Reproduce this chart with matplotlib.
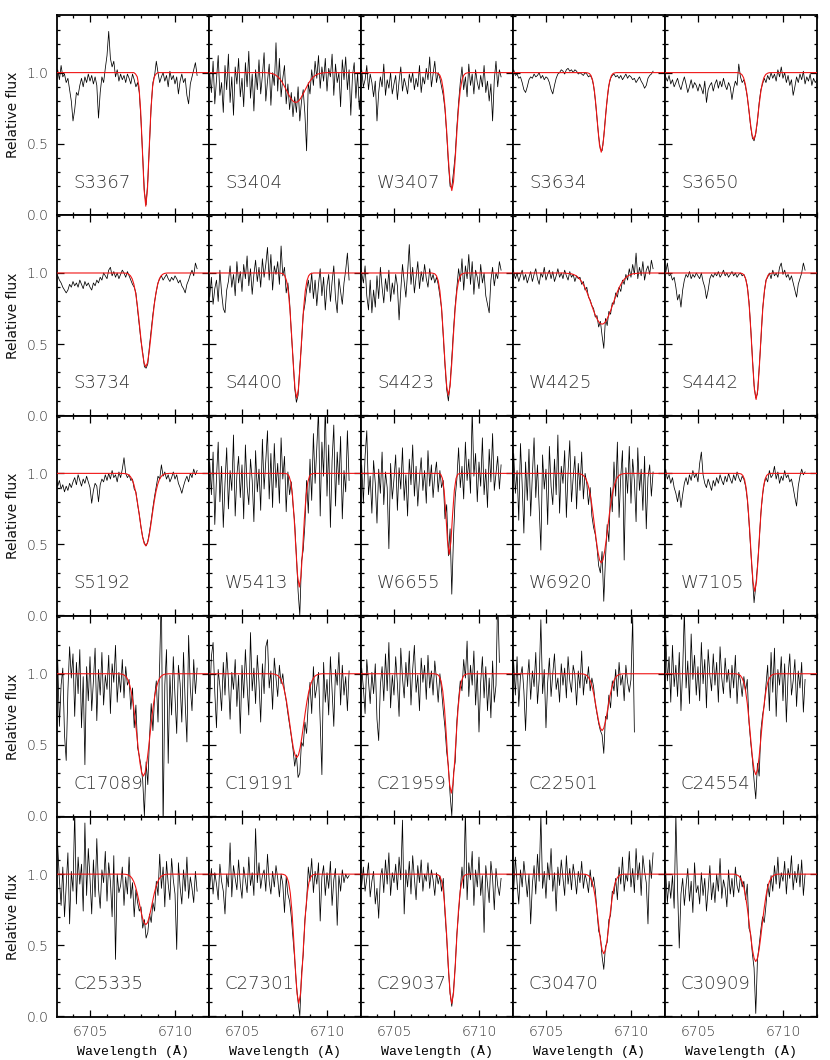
import numpy as np
import matplotlib
matplotlib.use("Agg")
import matplotlib.pyplot as plt
from matplotlib.ticker import MultipleLocator

STARS = ["S3367", "S3404", "W3407", "S3634", "S3650",
         "S3734", "S4400", "S4423", "W4425", "S4442",
         "S5192", "W5413", "W6655", "W6920", "W7105",
         "C17089", "C19191", "C21959", "C22501", "C24554",
         "C25335", "C27301", "C29037", "C30470", "C30909"]

WAVE0 = 6703.0   # first wavelength of each spectrum (A)
DWAVE = 0.1      # sampling step (A)

FLUX_S3367 = [0.97,1.02,0.95,1.05,0.97,0.99,0.93,0.96,0.88,0.80,
              0.66,0.74,0.86,0.84,0.91,0.96,0.90,0.97,0.93,0.99,
              0.94,0.98,0.92,0.97,0.91,0.68,0.86,0.97,0.93,1.03,
              1.12,1.29,1.10,1.04,1.08,0.97,1.02,0.94,0.99,0.95,
              0.98,0.93,0.99,0.96,0.92,0.99,0.95,0.90,0.93,0.86,
              0.66,0.41,0.16,0.07,0.24,0.50,0.77,0.93,0.98,1.08,
              1.00,0.93,0.97,1.00,0.94,0.98,0.90,1.01,0.95,0.98,
              0.92,0.97,0.85,0.94,0.99,0.93,0.96,0.84,0.78,0.92,
              0.97,1.02,1.07,0.98]
FLUX_S3404 = [0.80,1.00,0.86,1.08,0.78,0.95,1.12,0.84,0.93,0.72,
              1.05,0.88,1.13,0.79,0.97,0.70,1.04,0.92,1.10,0.83,
              0.96,0.76,1.07,0.90,1.15,0.82,0.99,0.73,1.02,0.88,
              1.09,0.85,0.98,1.14,0.80,0.94,1.06,0.77,1.00,0.91,
              1.21,0.87,1.10,0.83,0.96,1.05,0.78,0.92,0.74,0.86,
              0.69,0.83,0.72,0.90,0.66,0.80,0.88,0.71,0.45,0.93,
              0.85,1.02,0.91,1.08,0.96,1.12,0.89,1.04,0.94,1.10,
              0.87,1.03,0.97,1.13,0.84,1.06,0.93,1.00,0.76,1.09,
              0.95,1.11,0.88,1.02,0.70,0.98,1.07,0.82,1.00,0.74,
              0.90]
FLUX_W3407 = [0.97,1.02,0.90,0.95,1.05,0.88,0.99,0.93,0.83,0.94,
              0.66,0.86,0.97,0.90,1.06,0.84,0.95,0.89,1.00,0.85,
              0.92,0.98,0.81,0.94,1.04,0.87,0.96,0.91,0.85,0.99,
              0.93,1.00,0.88,0.96,0.90,1.05,0.86,0.97,0.92,1.03,
              0.95,1.11,0.90,0.99,1.08,0.93,1.00,0.96,0.90,0.84,
              0.74,0.57,0.36,0.20,0.19,0.30,0.42,0.62,0.79,0.93,
              1.04,0.88,0.97,0.83,1.06,0.91,0.99,0.85,1.02,0.93,
              0.88,0.98,0.90,1.05,0.86,0.94,0.80,0.92,0.66,0.95,
              1.08,0.90,1.02,0.97]
FLUX_S3634 = [1.01,1.02,0.98,0.99,0.96,0.97,0.93,0.88,0.86,0.90,
              0.95,0.97,0.96,0.99,0.97,0.98,1.00,0.96,0.98,0.95,
              0.97,0.96,0.93,0.88,0.85,0.91,0.96,0.99,1.00,1.02,
              1.01,0.99,1.02,1.03,1.01,1.02,1.00,1.02,1.01,0.99,
              1.00,0.99,0.98,1.00,0.99,0.97,0.98,0.96,0.91,0.81,
              0.68,0.55,0.46,0.45,0.55,0.69,0.81,0.91,0.96,0.98,
              0.99,0.97,0.98,0.96,0.98,0.95,0.97,0.99,0.96,0.98,
              0.97,0.95,0.96,0.93,0.95,0.97,0.94,0.92,0.89,0.91,
              0.96,0.98,0.99,1.01]
FLUX_S3650 = [1.00,0.97,0.94,0.98,0.92,0.95,0.90,0.93,0.96,0.91,
              0.88,0.93,0.97,0.92,0.86,0.90,0.95,0.89,0.93,0.91,
              0.87,0.92,0.89,0.85,0.94,0.79,0.88,0.91,0.93,0.87,
              0.92,0.95,0.89,0.94,0.90,0.96,0.91,0.88,0.93,0.90,
              0.81,0.89,0.94,0.91,1.06,0.97,0.93,0.95,0.90,0.83,
              0.73,0.62,0.54,0.52,0.57,0.66,0.79,0.88,0.92,0.96,
              0.93,0.98,0.95,1.00,0.96,0.99,0.94,1.02,0.97,1.04,
              0.96,1.00,0.93,0.98,0.91,0.95,0.84,0.90,0.97,0.93,
              0.99,0.95,1.01,0.92,0.97,0.94,0.99,0.91,0.96,0.93,
              0.95]
FLUX_S3734 = [0.99,0.98,0.95,0.93,0.90,0.88,0.86,0.88,0.92,0.90,
              0.94,0.91,0.93,0.90,0.95,0.92,0.89,0.94,0.91,0.93,
              0.90,0.88,0.93,0.91,0.95,0.93,0.97,0.95,1.00,0.98,
              0.96,1.02,1.04,0.98,1.01,0.97,1.00,0.96,0.99,1.02,
              1.00,0.97,1.01,0.98,0.95,0.92,0.90,0.86,0.74,0.63,
              0.52,0.44,0.34,0.33,0.36,0.49,0.60,0.71,0.80,0.87,
              0.93,0.96,0.98,0.95,0.97,0.99,0.96,0.94,0.97,0.95,
              0.98,0.96,0.93,0.95,0.91,0.89,0.86,0.92,0.95,0.99,
              1.02,0.98,1.07,1.03]
FLUX_S4400 = [0.92,0.83,0.97,0.78,0.89,0.95,0.80,1.02,0.86,0.75,
              0.72,0.88,0.94,1.05,0.90,0.99,0.84,1.08,0.93,1.01,
              0.87,1.06,0.96,1.12,0.91,1.03,0.85,0.99,1.09,0.94,
              1.04,0.90,1.10,0.97,1.06,1.18,0.95,1.13,0.88,1.05,
              0.99,1.08,0.92,1.19,0.98,1.04,0.86,0.93,0.80,0.58,
              0.40,0.19,0.09,0.14,0.34,0.50,0.71,0.78,0.88,0.95,
              0.86,1.00,0.82,0.95,0.77,0.92,1.03,0.84,0.97,0.74,
              0.91,0.99,0.80,0.94,1.05,0.82,0.72,0.96,0.87,0.78,
              0.93,1.02,1.14,0.95]
FLUX_S4423 = [1.07,1.00,0.93,1.05,0.84,0.74,0.95,0.72,0.88,0.76,
              0.98,0.82,1.04,0.90,0.79,0.96,0.87,1.02,0.80,0.93,
              0.85,0.99,0.91,0.67,0.88,1.06,0.94,0.83,1.00,1.20,
              0.92,1.04,0.86,0.97,1.08,0.89,1.01,0.94,1.06,0.96,
              0.90,1.03,0.95,0.99,0.93,0.97,0.92,0.84,0.75,0.55,
              0.35,0.18,0.10,0.22,0.40,0.60,0.77,0.90,1.03,0.94,
              1.10,0.88,1.05,0.96,1.13,0.92,1.08,0.85,1.02,0.97,
              0.89,1.06,0.93,1.00,0.84,0.78,0.72,0.95,1.04,0.91,
              1.00,0.96,1.08,1.02]
FLUX_W4425 = [1.06,1.01,0.96,1.00,0.94,0.98,1.02,0.95,0.99,0.93,
              0.97,1.01,0.94,0.99,1.03,0.96,0.92,1.00,0.97,1.04,
              0.95,0.99,1.02,0.96,1.01,0.94,0.98,1.03,0.97,1.00,
              0.96,1.02,0.98,0.95,1.01,0.97,0.99,0.94,0.98,0.96,
              0.97,0.92,0.94,0.88,0.90,0.83,0.81,0.77,0.75,0.69,
              0.70,0.62,0.66,0.56,0.47,0.68,0.63,0.73,0.71,0.79,
              0.78,0.86,0.83,0.90,0.87,0.95,0.92,0.99,0.95,1.03,
              0.97,1.06,0.99,1.14,0.96,1.04,0.98,1.08,0.95,1.02,
              1.05,0.99,1.09,1.03]
FLUX_S4442 = [1.02,1.00,1.07,0.98,0.99,0.95,0.97,0.90,0.81,0.85,
              0.76,0.88,0.95,0.99,0.97,1.01,0.96,0.99,0.97,1.00,
              0.98,0.96,1.00,0.94,0.90,0.82,0.88,0.96,0.99,0.97,
              1.00,0.98,1.01,0.97,0.99,1.02,0.98,1.00,0.97,0.99,
              1.01,0.98,1.00,0.97,0.99,1.00,0.98,0.99,0.96,0.91,
              0.80,0.62,0.41,0.21,0.12,0.15,0.33,0.52,0.74,0.86,
              0.95,0.97,1.00,0.96,1.02,0.98,1.00,0.97,1.04,1.07,
              0.99,1.02,0.97,0.99,0.95,0.98,0.93,0.88,0.83,0.92,
              0.96,1.00,1.07,1.02]
FLUX_S5192 = [0.96,0.91,0.95,0.89,0.92,0.87,0.91,0.88,0.93,0.90,
              0.94,0.97,0.92,0.99,0.95,0.91,0.96,0.93,0.98,0.94,
              0.90,0.79,0.88,0.93,0.91,0.80,0.92,0.96,0.94,0.99,
              0.95,1.00,0.96,1.02,0.97,0.99,0.94,1.01,0.97,1.03,
              1.11,1.00,0.97,0.99,0.95,0.96,0.89,0.87,0.78,0.71,
              0.62,0.55,0.51,0.49,0.52,0.59,0.67,0.76,0.84,0.91,
              0.98,0.96,1.06,0.98,1.01,0.96,0.99,0.94,0.97,1.01,
              0.96,0.99,0.93,0.90,0.86,0.91,0.95,0.98,0.94,1.00,
              0.97,1.03,0.99,1.02]
FLUX_W5413 = [0.72,1.08,0.85,1.15,0.64,0.97,1.22,0.80,1.05,0.62,
              0.93,1.18,0.75,1.02,0.88,1.27,0.70,0.99,1.12,0.83,
              1.06,0.68,1.20,0.91,0.78,1.10,0.95,0.66,1.16,0.87,
              1.03,0.74,1.24,0.89,1.09,1.30,0.82,1.14,0.76,1.21,
              0.90,1.07,0.79,1.25,0.96,1.12,0.73,1.01,0.85,0.94,
              0.78,0.65,0.42,0.17,0.00,0.38,0.46,0.64,0.95,0.72,
              1.10,0.81,1.28,0.93,1.18,1.45,0.70,1.22,0.98,1.48,
              0.84,1.20,0.62,1.09,1.34,0.77,1.15,0.92,1.26,0.68,
              1.02,0.87,1.30,0.95]
FLUX_W6655 = [0.88,1.06,0.79,1.12,1.30,0.85,0.98,0.72,1.09,0.93,
              0.65,1.03,0.86,1.15,0.78,1.01,0.90,0.47,1.07,0.82,
              0.96,1.13,0.74,1.04,0.89,1.18,0.81,0.99,0.70,1.10,
              0.92,1.20,0.84,1.05,0.77,0.97,1.11,0.88,1.02,0.79,
              1.16,0.91,1.06,0.83,0.99,1.08,0.87,1.02,0.90,0.95,
              0.68,0.78,0.42,0.61,0.15,0.55,0.83,0.96,1.18,0.90,
              1.05,0.82,1.22,0.95,1.10,0.86,1.45,0.98,1.14,0.80,
              1.08,0.91,1.25,0.85,1.03,0.76,1.17,0.94,1.28,0.88,
              1.00,1.12,0.89,1.06]
FLUX_W6920 = [0.74,1.14,0.86,1.02,0.67,1.21,0.92,0.58,1.08,0.81,
              1.17,0.70,0.99,1.25,0.83,1.06,0.76,0.46,1.13,0.89,
              1.03,0.64,1.19,0.91,0.78,1.10,0.85,1.27,0.72,1.05,
              0.93,1.16,0.69,1.01,1.23,0.80,0.97,1.12,0.75,1.07,
              0.88,1.15,0.82,1.00,0.93,0.78,0.90,0.70,0.62,0.57,
              0.48,0.35,0.30,0.45,0.10,0.40,0.64,0.52,0.90,0.73,
              1.08,0.84,1.22,0.69,0.98,1.16,0.39,1.04,0.86,1.19,
              0.79,1.10,0.95,0.66,1.18,0.88,1.03,0.74,1.12,0.61,
              0.97,1.06,0.84,1.01]
FLUX_W7105 = [0.98,1.03,0.96,0.99,0.93,0.97,0.90,0.86,0.80,0.88,
              0.76,0.85,0.93,0.97,0.92,0.99,0.95,1.02,0.97,1.00,
              0.94,1.07,1.15,0.99,0.93,0.90,0.96,0.92,0.88,0.95,
              0.91,0.97,0.93,0.99,0.95,0.92,0.98,0.94,1.00,0.96,
              0.93,0.99,0.95,1.01,0.97,0.94,0.98,0.96,0.91,0.82,
              0.66,0.47,0.28,0.09,0.21,0.35,0.52,0.72,0.85,0.93,
              0.97,0.94,1.02,0.97,0.99,1.05,0.96,1.01,0.93,0.98,
              0.95,1.02,0.97,0.99,0.94,0.96,0.90,0.83,0.77,0.91,
              0.98,1.03,0.99,1.01]
FLUX_C17089 = [0.76,1.10,0.63,0.92,1.04,0.57,0.39,0.88,1.19,0.97,
               1.14,0.70,1.08,0.86,1.17,0.62,0.98,0.36,1.05,0.81,
               1.12,0.74,0.95,1.18,0.67,1.03,0.85,1.15,0.78,0.99,
               0.89,1.13,0.72,1.07,0.94,1.20,0.80,1.01,0.87,1.10,
               0.83,1.05,0.92,0.96,0.75,0.90,0.62,0.78,0.48,0.42,
               0.35,0.25,0.00,0.38,0.22,0.55,0.79,0.60,0.84,0.95,
               0.66,1.08,1.60,-0.10,0.92,1.17,0.37,0.99,0.71,1.12,
               0.84,0.58,1.06,0.93,0.66,1.15,0.79,0.52,1.27,0.90,
               0.74,1.10,0.86,1.04]
FLUX_C19191 = [0.95,0.80,1.12,1.22,0.87,0.62,1.03,0.91,0.74,1.08,
               0.85,1.15,0.96,0.68,1.01,0.89,1.10,0.77,0.99,0.58,
               1.06,0.83,1.17,0.92,0.71,1.29,0.88,1.04,0.79,1.13,
               0.94,0.66,1.07,0.86,1.19,1.24,0.90,1.02,0.75,1.11,
               0.97,0.84,1.06,0.93,1.00,0.88,0.81,0.72,0.64,0.56,
               0.47,0.35,0.43,0.27,0.30,0.52,0.49,0.66,0.58,0.79,
               0.94,0.72,1.05,0.83,0.91,1.01,0.66,0.29,1.08,0.80,
               0.96,0.71,1.12,0.88,0.63,1.03,0.92,1.15,0.78,1.06,
               0.85,0.98,0.74,1.02]
FLUX_C21959 = [0.82,1.04,0.90,0.72,1.10,0.95,0.79,1.01,0.86,1.07,
               0.68,0.53,0.92,1.05,0.81,1.14,0.88,1.22,0.76,0.99,
               0.85,1.12,0.93,0.70,1.18,0.97,0.83,1.08,0.91,1.16,
               0.78,1.03,1.20,0.87,0.99,0.74,1.11,0.94,1.06,0.82,
               1.13,0.90,1.02,0.85,1.09,0.96,0.80,1.00,0.88,0.74,
               0.62,0.45,0.35,0.15,0.00,0.30,0.38,0.67,0.82,0.95,
               0.88,1.10,0.97,1.23,0.84,1.06,0.92,1.16,0.78,1.02,
               0.59,0.94,1.12,0.83,1.05,0.74,0.97,0.69,1.09,0.80,
               0.92,1.55,1.08]
FLUX_C22501 = [0.93,1.08,0.85,1.12,0.77,0.98,1.05,0.88,0.60,0.95,
               1.10,0.82,1.02,0.91,1.15,0.79,0.96,1.38,0.86,1.03,
               0.62,0.94,1.11,0.84,1.00,1.14,0.89,0.97,0.80,1.07,
               0.92,1.04,0.83,1.12,0.95,0.87,1.06,0.99,0.78,1.02,
               0.90,1.16,0.85,0.99,0.93,1.05,0.88,0.97,0.91,0.79,
               0.72,0.65,0.60,0.57,0.44,0.70,0.68,0.85,0.76,0.95,
               0.88,1.03,0.84,1.08,0.92,0.99,0.81,1.06,0.94,0.87,
               0.96,1.40,0.59]
FLUX_C24554 = [0.88,1.29,0.95,1.12,0.80,1.20,0.91,1.06,0.84,1.15,
               0.74,1.02,1.45,0.90,1.09,0.79,1.28,0.96,1.13,0.85,
               1.05,0.81,1.22,0.93,1.10,0.76,1.17,0.99,0.88,1.14,
               0.92,1.08,0.80,1.19,0.97,0.86,1.11,0.94,1.03,0.83,
               1.06,0.90,1.13,0.79,1.01,0.95,0.84,0.98,0.88,0.96,
               0.66,0.52,0.40,0.25,0.12,0.37,0.28,0.60,0.71,0.78,
               0.92,1.06,0.74,1.15,0.87,1.18,0.70,1.03,0.92,1.12,
               0.81,1.07,0.66,0.99,1.14,0.85,0.95,1.10,0.77,1.02,
               0.90,1.08,0.73,0.96]
FLUX_C25335 = [1.10,1.20,0.96,0.78,1.05,0.70,0.92,1.15,0.65,1.02,
               0.88,1.45,0.79,1.12,0.93,1.07,0.74,1.36,0.85,1.18,
               0.97,0.72,1.10,0.84,1.25,0.90,0.76,1.03,0.94,1.16,
               0.81,1.08,0.95,0.70,1.13,0.40,1.00,0.87,0.92,1.05,
               0.78,0.98,0.86,1.12,0.83,0.94,0.70,0.89,0.80,0.74,
               0.77,0.62,0.68,0.55,0.59,0.72,0.66,0.80,0.74,0.95,
               0.85,1.14,0.90,1.05,0.77,1.09,0.93,0.82,1.11,0.96,
               0.86,0.47,1.08,0.91,0.79,1.03,0.88,1.12,0.83,0.98,
               0.90,0.80,1.02,0.88]
FLUX_C27301 = [0.98,0.90,1.04,0.86,1.01,0.93,0.82,1.07,0.95,0.88,
               0.72,1.00,0.91,1.22,0.84,1.06,0.97,0.89,1.10,0.93,
               0.83,1.05,0.96,0.87,1.12,0.92,1.01,0.85,1.32,0.94,
               1.08,0.90,0.99,1.03,0.88,1.14,0.95,0.86,1.02,0.91,
               1.06,0.97,0.84,1.00,0.93,0.73,0.98,0.86,0.81,0.70,
               0.55,0.40,0.22,0.10,0.00,0.30,0.43,0.68,0.80,1.05,
               0.95,1.11,0.87,1.02,0.93,1.08,0.67,0.98,1.06,0.85,
               1.01,0.90,1.09,0.78,0.96,1.04,0.64,0.99,0.88,1.03,
               0.94,1.00,0.97,0.99]
FLUX_C29037 = [1.00,0.92,1.05,0.88,0.97,1.08,0.84,0.95,1.02,0.79,
               0.90,0.69,0.98,1.04,0.87,1.10,0.93,1.15,0.85,1.01,
               0.94,1.07,0.89,1.12,0.96,1.38,0.72,1.03,0.91,1.09,
               0.86,1.13,0.97,0.82,1.06,0.94,1.10,0.88,1.00,0.95,
               1.08,0.90,1.03,0.96,0.85,1.01,0.93,0.99,0.88,0.97,
               0.72,0.55,0.33,0.16,0.07,0.18,0.35,0.58,0.73,0.89,
               1.05,0.90,1.45,0.82,1.08,0.96,1.16,0.78,1.03,0.91,
               1.12,0.85,0.99,0.59,1.06,0.93,0.80,1.09,0.97,0.75,
               1.04,0.92,0.85,0.97]
FLUX_C30470 = [1.05,0.88,1.12,0.94,0.79,1.03,0.91,1.09,0.97,0.84,
               1.00,0.65,0.93,1.06,0.86,1.14,0.95,1.42,0.90,1.02,
               0.83,1.08,0.96,1.18,0.88,1.01,0.74,1.05,0.92,1.10,
               0.97,0.85,1.13,0.93,1.04,0.89,1.07,0.98,0.86,1.02,
               0.94,1.09,0.90,1.00,0.95,0.87,1.03,0.91,0.98,0.89,
               0.74,0.60,0.56,0.42,0.33,0.49,0.52,0.68,0.71,0.88,
               0.86,0.97,0.82,1.05,0.93,1.12,0.88,1.00,0.95,1.16,
               0.91,1.04,0.87,1.18,0.96,1.08,0.85,1.13,1.02,0.94,
               0.65,1.10,0.97,1.15]
FLUX_C30909 = [0.88,1.02,0.80,0.95,0.83,0.99,0.76,1.42,0.90,0.48,
               0.86,0.97,0.78,0.92,1.04,0.81,0.95,0.73,1.08,0.87,
               0.92,0.79,1.01,0.85,0.97,0.74,0.89,1.06,0.82,0.94,
               0.80,1.00,0.88,1.11,0.83,0.96,0.90,0.77,1.03,0.86,
               0.97,0.84,1.05,0.92,0.87,0.99,0.91,0.95,0.82,0.93,
               0.62,0.58,0.44,0.34,0.02,0.40,0.50,0.61,0.70,0.66,
               0.78,0.93,0.84,0.99,0.88,1.06,0.93,1.12,0.90,1.01,
               0.95,1.09,0.86,1.04,0.97,1.13,0.89,1.02,0.94,1.07,
               0.91,1.10,0.85,1.00]

# Fitted Li line: centre (A) and profile read from the centre outwards, every DWAVE
FIT_CENTER = [6708.28, 6708.16, 6708.40, 6708.25, 6708.28,
              6708.28, 6708.22, 6708.20, 6708.30, 6708.42,
              6708.28, 6708.37, 6708.25, 6708.25, 6708.34,
              6708.14, 6708.22, 6708.37, 6708.30, 6708.40,
              6708.28, 6708.34, 6708.40, 6708.40, 6708.40]
FIT_S3367 = [0.06,0.18,0.46,0.73,0.90,0.97,0.99,1.0]
FIT_S3404 = [0.79,0.794,0.804,0.821,0.842,0.865,0.889,0.912,0.933,0.950,0.965,0.975,0.984,0.990,0.993,0.996,0.998,0.999,1.0]
FIT_W3407 = [0.17,0.231,0.39,0.585,0.758,0.879,0.948,0.981,0.994,0.998,1.0]
FIT_S3634 = [0.44,0.489,0.612,0.755,0.871,0.943,0.979,0.994,0.998,1.0]
FIT_S3650 = [0.53,0.563,0.648,0.755,0.851,0.922,0.965,0.986,0.995,0.999,1.0]
FIT_S3734 = [0.34,0.368,0.445,0.553,0.67,0.777,0.861,0.921,0.959,0.98,0.991,0.997,0.999,1.0]
FIT_S4400 = [0.12,0.185,0.353,0.56,0.744,0.872,0.945,0.98,0.994,0.998,1.0]
FIT_S4423 = [0.14,0.204,0.368,0.57,0.75,0.874,0.946,0.98,0.994,0.998,1.0]
FIT_W4425 = [0.64,0.644,0.657,0.678,0.704,0.735,0.769,0.803,0.836,0.868,0.895,0.919,0.939,0.955,0.968,0.978,0.985,0.99,0.994,0.996,0.997,0.998,0.999,1.0]
FIT_S4442 = [0.11,0.18,0.36,0.576,0.762,0.886,0.954,0.984,0.995,0.999,1.0]
FIT_S5192 = [0.49,0.509,0.562,0.639,0.724,0.805,0.872,0.922,0.956,0.977,0.989,0.995,0.998,0.999,1.0]
FIT_W5413 = [0.20,0.278,0.47,0.682,0.845,0.938,0.98,0.995,0.999,1.0]
FIT_W6655 = [0.43,0.521,0.715,0.88,0.964,0.993,0.999,1.0]
FIT_W6920 = [0.37,0.391,0.451,0.537,0.636,0.732,0.817,0.882,0.929,0.961,0.979,0.99,0.995,0.998,0.999,1.0]
FIT_W7105 = [0.17,0.236,0.403,0.605,0.778,0.894,0.957,0.985,0.996,0.999,1.0]
FIT_C17089 = [0.28,0.304,0.372,0.471,0.584,0.694,0.79,0.865,0.919,0.955,0.976,0.988,0.995,0.998,0.999,1.0]
FIT_C19191 = [0.41,0.428,0.478,0.553,0.639,0.726,0.805,0.869,0.917,0.951,0.973,0.986,0.993,0.997,0.999,1.0]
FIT_C21959 = [0.16,0.222,0.383,0.58,0.756,0.877,0.948,0.981,0.994,0.998,1.0]
FIT_C22501 = [0.60,0.617,0.664,0.729,0.80,0.865,0.916,0.952,0.975,0.988,0.995,0.998,0.999,1.0]
FIT_C24554 = [0.29,0.324,0.417,0.544,0.677,0.793,0.88,0.937,0.969,0.987,0.995,0.998,1.0]
FIT_C25335 = [0.645,0.658,0.695,0.749,0.808,0.864,0.911,0.946,0.969,0.984,0.992,0.997,0.999,1.0]
FIT_C27301 = [0.09,0.157,0.331,0.545,0.735,0.867,0.943,0.979,0.993,0.998,1.0]
FIT_C29037 = [0.09,0.162,0.346,0.567,0.757,0.884,0.953,0.984,0.995,0.999,1.0]
FIT_C30470 = [0.44,0.467,0.54,0.64,0.745,0.837,0.905,0.95,0.976,0.99,0.996,0.999,1.0]
FIT_C30909 = [0.385,0.408,0.472,0.565,0.667,0.764,0.846,0.907,0.947,0.972,0.987,0.994,0.998,1.0]

FLUXES = [FLUX_S3367, FLUX_S3404, FLUX_W3407, FLUX_S3634, FLUX_S3650,
          FLUX_S3734, FLUX_S4400, FLUX_S4423, FLUX_W4425, FLUX_S4442,
          FLUX_S5192, FLUX_W5413, FLUX_W6655, FLUX_W6920, FLUX_W7105,
          FLUX_C17089, FLUX_C19191, FLUX_C21959, FLUX_C22501, FLUX_C24554,
          FLUX_C25335, FLUX_C27301, FLUX_C29037, FLUX_C30470, FLUX_C30909]
FITS = [FIT_S3367, FIT_S3404, FIT_W3407, FIT_S3634, FIT_S3650,
        FIT_S3734, FIT_S4400, FIT_S4423, FIT_W4425, FIT_S4442,
        FIT_S5192, FIT_W5413, FIT_W6655, FIT_W6920, FIT_W7105,
        FIT_C17089, FIT_C19191, FIT_C21959, FIT_C22501, FIT_C24554,
        FIT_C25335, FIT_C27301, FIT_C29037, FIT_C30470, FIT_C30909]

XLIM = (6703.06, 6712.0)
YLIM = (-0.005, 1.405)

fig, axes = plt.subplots(5, 5, figsize=(8.3, 10.6), dpi=100, sharex=True, sharey=True)
fig.subplots_adjust(left=0.0687, right=0.9843, bottom=0.0406, top=0.9858,
                    wspace=0, hspace=0)

thin_font = dict(family="DejaVu Sans", weight=200)

for k, ax in enumerate(axes.flat):
    flux = np.asarray(FLUXES[k], dtype=float)
    wl = WAVE0 + DWAVE * np.arange(flux.size)
    ax.plot(wl, flux, color="black", lw=0.55, zorder=2)

    half = list(FITS[k])
    prof = half[:0:-1] + half
    n = len(half) - 1
    fx = FIT_CENTER[k] + DWAVE * np.arange(-n, n + 1)
    fx = np.concatenate([[XLIM[0] - 1.0], fx, [XLIM[1] + 1.0]])
    fy = [1.0] + prof + [1.0]
    ax.plot(fx, fy, color="#f01414", lw=0.8, zorder=3)

    ax.text(6704.0, 0.19, STARS[k], fontsize=13, color="#333333",
            ha="left", va="baseline", **thin_font)

    ax.set_xlim(*XLIM)
    ax.set_ylim(*YLIM)
    ax.xaxis.set_major_locator(MultipleLocator(5))
    ax.xaxis.set_minor_locator(MultipleLocator(1))
    ax.yaxis.set_major_locator(MultipleLocator(0.5))
    ax.yaxis.set_minor_locator(MultipleLocator(0.1))
    ax.yaxis.set_major_formatter(matplotlib.ticker.FormatStrFormatter("%.1f"))
    ax.tick_params(which="both", direction="in", top=True, right=True,
                   width=0.9, labelsize=10, pad=6, labelcolor="#333333")
    ax.tick_params(which="major", length=5)
    ax.tick_params(which="minor", length=2.5)
    for sp in ax.spines.values():
        sp.set_linewidth(1.3)
    for lab in ax.get_xticklabels() + ax.get_yticklabels():
        lab.set_fontfamily("DejaVu Sans")
        lab.set_fontweight(200)

for r in range(5):
    ax = axes[r, 0]
    ax.set_ylabel("Relative flux", fontsize=10, family="DejaVu Sans", color="#111111")
    ax.yaxis.set_label_coords(-0.245, 0.5)
for c in range(5):
    ax = axes[4, c]
    ax.set_xlabel("Wavelength (Å)", fontsize=9.5, family="Liberation Mono")
    ax.xaxis.set_label_coords(0.5, -0.14)

fig.savefig("out.png", dpi=100)
